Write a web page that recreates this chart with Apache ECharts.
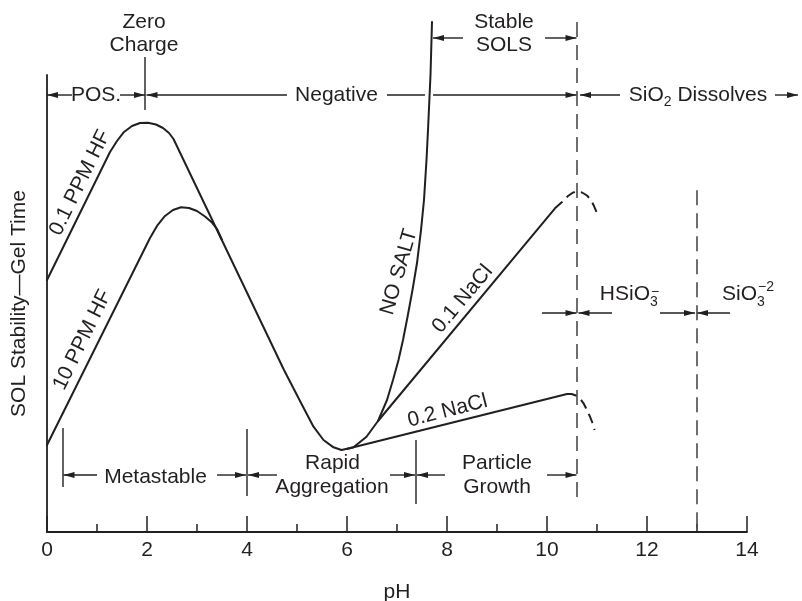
<!DOCTYPE html>
<html>
<head>
<meta charset="utf-8">
<script src="https://cdn.jsdelivr.net/npm/echarts@6/dist/echarts.min.js"></script>
<style>
  html, body { margin: 0; padding: 0; background: #fff; }
  #chart { width: 802px; height: 601px; }
</style>
</head>
<body>
<div id="chart"></div>
<script>
const INK = '#231f20';
const DASH_INK = '#4a4a4a';
const FONT = '"Liberation Sans", Arial, Helvetica, sans-serif';

// pH axis
const phMin = 0, phMax = 14, phStep = 2;

// Gel-time curves as [pH, relative stability]
const hf01 = [
  [0, 55.14], [1.26, 83.15], [1.40, 85.56], [1.54, 87.53], [1.70, 88.84],
  [1.86, 89.50], [2.02, 89.56], [2.18, 89.17], [2.32, 88.40], [2.44, 87.31],
  [2.53, 86.00], [4.74, 35.45], [5.12, 27.42], [5.33, 23.04], [5.53, 20.13],
  [5.73, 18.53], [5.89, 17.94]
];
const hf10 = [
  [0, 19.04], [2.06, 64.33], [2.20, 66.96], [2.36, 69.15], [2.52, 70.46],
  [2.68, 71.05], [2.84, 70.90], [3.00, 70.24], [3.16, 69.04], [3.30, 67.72],
  [3.40, 66.30], [3.50, 63.89]
];
const noSalt = [
  [5.89, 17.94], [6.13, 18.53], [6.39, 20.85], [6.62, 24.29], [6.80, 28.88],
  [6.92, 33.26], [7.03, 37.64], [7.12, 42.01], [7.21, 47.05], [7.31, 52.95],
  [7.40, 58.86], [7.48, 66.08], [7.54, 72.65], [7.59, 81.40], [7.62, 87.96],
  [7.67, 100.0], [7.70, 111.60]
];
const nacl01 = [[6.62, 24.29], [10.16, 70.83]];
const nacl01Tail = [
  [10.16, 70.83], [10.30, 72.21], [10.42, 73.52], [10.52, 74.29], [10.60, 74.46],
  [10.70, 74.29], [10.80, 73.63], [10.88, 72.65], [10.94, 71.33], [11.00, 69.80]
];
const nacl02 = [[6.00, 18.16], [6.13, 18.53], [10.40, 30.20]];
const nacl02Tail = [
  [10.40, 30.20], [10.49, 30.20], [10.58, 29.87], [10.66, 29.21], [10.73, 28.16],
  [10.80, 26.70], [10.86, 25.23], [10.91, 23.85], [10.95, 22.32]
];

// Region limits (dashed)
const dissolveLimit = [[10.6, 111.6], [10.6, 6.5]];
const silicateLimit = [[13.0, 74.8], [13.0, 0]];

// Range rules and arrows: [pH1, s1, pH2, s2, arrowAtStart, arrowAtEnd]
const rowCharge = 95.62, rowSols = 108.1, rowState = 12.47, rowIon = 47.92;
const marks = [
  [0.00, rowCharge, 0.50, rowCharge, 1, 0],
  [1.46, rowCharge, 1.96, rowCharge, 0, 1],
  [1.99, rowCharge, 4.80, rowCharge, 1, 0],
  [6.80, rowCharge, 7.56, rowCharge, 0, 0],
  [7.72, rowCharge, 10.59, rowCharge, 0, 1],
  [10.66, rowCharge, 11.46, rowCharge, 1, 0],
  [14.56, rowCharge, 15.02, rowCharge, 0, 1],
  [1.96, 103.94, 1.96, 92.34, 0, 0],
  [7.72, rowSols, 8.32, rowSols, 1, 0],
  [9.96, rowSols, 10.59, rowSols, 0, 1],
  [0.32, 22.76, 0.32, 9.85, 0, 0],
  [0.33, rowState, 1.00, rowState, 1, 0],
  [3.40, rowState, 3.98, rowState, 0, 1],
  [4.00, 22.54, 4.00, 7.88, 0, 0],
  [4.02, rowState, 4.60, rowState, 1, 0],
  [6.86, rowState, 7.36, rowState, 0, 1],
  [7.38, 20.13, 7.38, 6.13, 0, 0],
  [7.40, rowState, 7.96, rowState, 1, 0],
  [10.00, rowState, 10.59, rowState, 0, 1],
  [9.90, rowIon, 10.59, rowIon, 0, 1],
  [10.63, rowIon, 11.30, rowIon, 1, 0],
  [12.26, rowIon, 12.96, rowIon, 0, 1],
  [13.00, rowIon, 13.66, rowIon, 1, 0]
];

// Text notes: [pH, stability, text, rotation (deg), align]
const notes = [
  [1.94, 111.6, 'Zero', 0, 'center'],
  [1.94, 106.56, 'Charge', 0, 'center'],
  [0.98, rowCharge, 'POS.', 0, 'center'],
  [5.79, rowCharge, 'Negative', 0, 'center'],
  [13.02, rowCharge, '{m|SiO}{sub|2}{m| Dissolves}', 0, 'center'],
  [9.14, 111.6, 'Stable', 0, 'center'],
  [9.14, 106.56, 'SOLS', 0, 'center'],
  [2.17, 12.04, 'Metastable', 0, 'center'],
  [5.71, 15.10, 'Rapid', 0, 'center'],
  [5.70, 9.85, 'Aggregation', 0, 'center'],
  [9.00, 15.10, 'Particle', 0, 'center'],
  [9.00, 9.85, 'Growth', 0, 'center'],
  [12.06, 51.97, 'HSiO', 0, 'right'],
  [12.06, 50.22, '{s|3}', 0, 'left'],
  [12.08, 52.52, '{s|\u2212}', 0, 'left'],
  [14.20, 51.97, 'SiO', 0, 'right'],
  [14.20, 50.22, '{s|3}', 0, 'left'],
  [14.22, 53.61, '{s|\u22122}', 0, 'left'],
  [0.66, 76.4, '0.1 PPM HF', 64, 'center'],
  [0.71, 42.0, '10 PPM HF', 64, 'center'],
  [7.04, 56.9, 'NO SALT', 74, 'center'],
  [8.31, 50.98, '0.1 NaCl', 50, 'center'],
  [8.01, 26.5, '0.2 NaCl', 14.5, 'center']
];

const RICH = {
  m: { fontSize: 21, fontFamily: FONT, lineHeight: 28, fill: INK },
  sub: { fontSize: 14, fontFamily: FONT, lineHeight: 14, verticalAlign: 'bottom', fill: INK },
  s: { fontSize: 14, fontFamily: FONT, fill: INK }
};

function arrowHead(tip, from) {
  const dx = tip[0] - from[0], dy = tip[1] - from[1];
  const L = Math.hypot(dx, dy) || 1;
  const ux = dx / L, uy = dy / L;
  const len = 11, hw = 3;
  const bx = tip[0] - ux * len, by = tip[1] - uy * len;
  return {
    type: 'polygon',
    shape: { points: [tip, [bx - uy * hw, by + ux * hw], [bx + uy * hw, by - ux * hw]] },
    style: { fill: INK }
  };
}

function renderMark(params, api) {
  const m = marks[params.dataIndex];
  const a = api.coord([m[0], m[1]]);
  const b = api.coord([m[2], m[3]]);
  const children = [{
    type: 'line',
    shape: { x1: a[0], y1: a[1], x2: b[0], y2: b[1] },
    style: { stroke: INK, lineWidth: 1.4 }
  }];
  if (m[4]) children.push(arrowHead(a, b));
  if (m[5]) children.push(arrowHead(b, a));
  return { type: 'group', children };
}

function renderNote(params, api) {
  const n = notes[params.dataIndex];
  const p = api.coord([n[0], n[1]]);
  return {
    type: 'text',
    x: p[0],
    y: p[1],
    rotation: n[3] * Math.PI / 180,
    style: {
      text: n[2],
      rich: RICH,
      fill: INK,
      font: '21px ' + FONT,
      fontSize: 21,
      fontFamily: FONT,
      align: n[4],
      textAlign: n[4],
      verticalAlign: 'middle',
      textVerticalAlign: 'middle'
    }
  };
}

function curve(name, data, dashed) {
  return {
    name, type: 'line', data,
    symbol: 'none', showSymbol: false, clip: false, silent: true,
    lineStyle: dashed
      ? { color: INK, width: 2, type: [10, 6], cap: 'butt' }
      : { color: INK, width: 2, cap: 'round', join: 'round' }
  };
}

function limit(name, data) {
  return {
    name, type: 'line', data,
    symbol: 'none', showSymbol: false, clip: false, silent: true,
    lineStyle: { color: DASH_INK, width: 1.6, type: [15, 8] }
  };
}

const chart = echarts.init(document.getElementById('chart'), null, { renderer: 'canvas' });
chart.setOption({
  animation: false,
  backgroundColor: '#fff',
  grid: { left: 47, right: 55, top: 75, bottom: 69, containLabel: false, outerBoundsMode: 'none' },
  xAxis: {
    type: 'value', min: phMin, max: phMax, interval: phStep,
    name: 'pH', nameLocation: 'middle', nameGap: 50,
    nameTextStyle: { color: INK, fontSize: 21, fontFamily: FONT },
    axisLine: { show: true, lineStyle: { color: INK, width: 1.8 } },
    axisTick: { show: true, inside: true, length: 16, lineStyle: { color: INK, width: 1.5 } },
    minorTick: { show: true, splitNumber: 2, length: 8, lineStyle: { color: INK, width: 1.5 } },
    axisLabel: { color: INK, fontSize: 21, fontFamily: FONT, margin: 8 },
    splitLine: { show: false },
    minorSplitLine: { show: false }
  },
  yAxis: {
    type: 'value', min: 0, max: 100,
    name: 'SOL Stability\u2014Gel Time', nameLocation: 'middle', nameGap: 17, nameRotate: 90,
    nameTextStyle: { color: INK, fontSize: 21, fontFamily: FONT },
    axisLine: { show: true, onZero: false, lineStyle: { color: INK, width: 1.8 } },
    axisTick: { show: false },
    axisLabel: { show: false },
    splitLine: { show: false }
  },
  series: [
    curve('0.1 PPM HF', hf01),
    curve('10 PPM HF', hf10),
    curve('NO SALT', noSalt),
    curve('0.1 NaCl', nacl01),
    curve('0.1 NaCl tail', nacl01Tail, true),
    curve('0.2 NaCl', nacl02),
    curve('0.2 NaCl tail', nacl02Tail, true),
    limit('SiO2 dissolves', dissolveLimit),
    limit('HSiO3 / SiO3', silicateLimit),
    {
      name: 'ranges', type: 'custom', silent: true, clip: false,
      data: marks.map(m => [m[0], m[1], m[2], m[3]]),
      encode: { x: [0, 2], y: [1, 3] },
      renderItem: renderMark
    },
    {
      name: 'notes', type: 'custom', silent: true, clip: false,
      data: notes.map(n => [n[0], n[1]]),
      encode: { x: 0, y: 1 },
      renderItem: renderNote
    }
  ]
});
</script>
</body>
</html>
